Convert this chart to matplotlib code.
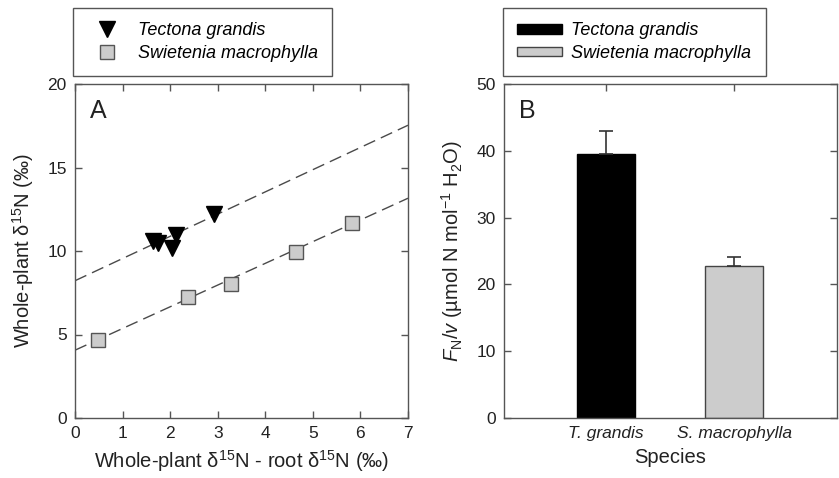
import matplotlib
matplotlib.use("Agg")
import matplotlib.pyplot as plt
import numpy as np
from matplotlib.lines import Line2D
from matplotlib.patches import Patch

# 字体与样式
plt.rcParams["font.family"] = ["Liberation Sans", "DejaVu Sans"]
plt.rcParams["mathtext.fontset"] = "custom"
plt.rcParams["mathtext.rm"] = "Liberation Sans"
plt.rcParams["mathtext.it"] = "Liberation Sans:italic"
plt.rcParams["mathtext.bf"] = "Liberation Sans:bold"

SPINE = "#555555"
TEXT = "#222222"
GREY_FILL = "#cccccc"
LABEL_SIZE = 14.5
TICK_SIZE = 12.5
LEGEND_SIZE = 13

# ---------------- 数据 ----------------
# A: 全株 δ15N 与 (全株 - 根) δ15N
teak_x = [1.65, 1.75, 2.03, 2.13, 2.93]
teak_y = [10.6, 10.5, 10.15, 10.95, 12.2]
mahog_x = [0.49, 2.38, 3.27, 4.64, 5.82]
mahog_y = [4.7, 7.25, 8.05, 9.97, 11.68]
# 回归线（截距, 斜率）
teak_fit = [8.22, 1.33]
mahog_fit = [4.06, 1.30]
line_x = [0, 7]

# B: FN/v
species = ["T. grandis", "S. macrophylla"]
fn_v = [39.5, 22.8]
fn_v_se = [3.4, 1.3]
bar_colors = ["black", GREY_FILL]
legend_names = ["Tectona grandis", "Swietenia macrophylla"]

fig = plt.figure(figsize=(8.39, 4.78), dpi=100)
axA = fig.add_axes([75 / 839, 1 - 418 / 478, 333 / 839, 334 / 478])
axB = fig.add_axes([504 / 839, 1 - 418 / 478, 333 / 839, 334 / 478])


def style_axes(ax):
    for s in ax.spines.values():
        s.set_color(SPINE)
        s.set_linewidth(1.0)
    ax.tick_params(direction="in", length=5, width=1.0, color=SPINE,
                   top=True, right=True, labelsize=TICK_SIZE, labelcolor=TEXT, pad=6)


# ---------------- 图A ----------------
for fit in (teak_fit, mahog_fit):
    ly = [fit[0] + fit[1] * x for x in line_x]
    axA.plot(line_x, ly, color="#4a4a4a", lw=1.0, dashes=(9, 4.5), zorder=1)

axA.plot(teak_x, teak_y, "v", color="black", markersize=11, ls="none", zorder=3)
axA.plot(mahog_x, mahog_y, "s", markerfacecolor=GREY_FILL, markeredgecolor="#555555",
         markeredgewidth=1.0, markersize=9.5, ls="none", zorder=3)

axA.set_xlim(0, 7)
axA.set_ylim(0, 20)
axA.set_xticks(range(0, 8))
axA.set_yticks([0, 5, 10, 15, 20])
style_axes(axA)
axA.set_xlabel(r"Whole-plant δ$^{15}$N - root δ$^{15}$N (‰)", fontsize=LABEL_SIZE,
               color=TEXT, labelpad=5)
axA.set_ylabel(r"Whole-plant δ$^{15}$N (‰)", fontsize=LABEL_SIZE, color=TEXT, labelpad=8)
axA.text(0.045, 0.955, "A", transform=axA.transAxes, fontsize=18, va="top", ha="left", color=TEXT)

handlesA = [
    Line2D([], [], marker="v", color="black", ls="none", markersize=11),
    Line2D([], [], marker="s", markerfacecolor=GREY_FILL, markeredgecolor="#555555",
           ls="none", markersize=9.5),
]
legA = fig.legend(handlesA, legend_names, loc="upper left",
                  bbox_to_anchor=(73 / 839, 1 - 8 / 478), bbox_transform=fig.transFigure,
                  borderaxespad=0, fancybox=False, edgecolor=SPINE, framealpha=1,
                  prop={"style": "italic", "size": LEGEND_SIZE}, handlelength=2.16,
                  handletextpad=0.64, borderpad=0.8, labelspacing=0.3)
legA.get_frame().set_linewidth(1.0)

# ---------------- 图B ----------------
pos = np.arange(1, len(species) + 1)
axB.bar(pos, fn_v, width=0.45, color=bar_colors, edgecolor=["black", "#444444"],
        linewidth=1.0, zorder=2)
axB.errorbar(pos, fn_v, yerr=[np.zeros(len(fn_v)), fn_v_se], fmt="none",
             ecolor="#333333", elinewidth=1.2, capsize=5, capthick=1.2, zorder=3)
axB.set_xlim(0.21, 2.8)
axB.set_ylim(0, 50)
axB.set_xticks(pos)
axB.set_xticklabels(species, fontstyle="italic")
axB.set_yticks([0, 10, 20, 30, 40, 50])
style_axes(axB)
axB.set_xlabel("Species", fontsize=LABEL_SIZE, color=TEXT, labelpad=5)
axB.set_ylabel(r"$F_{\mathrm{N}}/v$ (µmol N mol$^{\mathrm{-1}}$ H$_{\mathrm{2}}$O)",
               fontsize=LABEL_SIZE, color=TEXT, labelpad=8)
axB.text(0.045, 0.955, "B", transform=axB.transAxes, fontsize=18, va="top", ha="left", color=TEXT)

handlesB = [Patch(facecolor="black", edgecolor="black"),
            Patch(facecolor=GREY_FILL, edgecolor="#444444")]
legB = fig.legend(handlesB, legend_names, loc="upper left",
                  bbox_to_anchor=(503 / 839, 1 - 8 / 478), bbox_transform=fig.transFigure,
                  borderaxespad=0, fancybox=False, edgecolor=SPINE, framealpha=1,
                  prop={"style": "italic", "size": LEGEND_SIZE}, handlelength=2.44,
                  handleheight=0.45, handletextpad=0.55, borderpad=0.8, labelspacing=0.3)
legB.get_frame().set_linewidth(1.0)

fig.savefig("out.png", dpi=100)
